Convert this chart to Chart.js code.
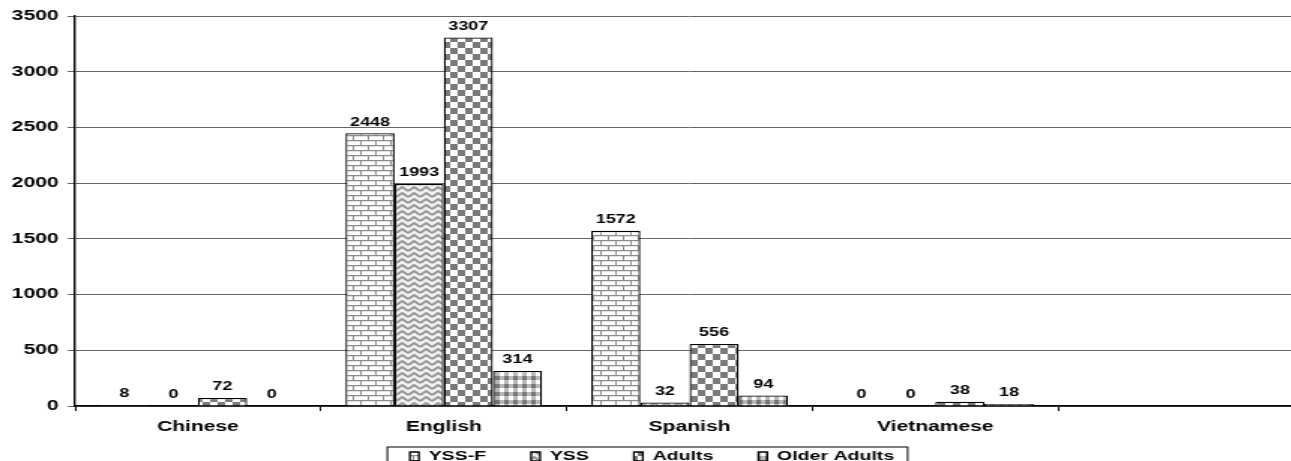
<!DOCTYPE html>
<html>
<head>
<meta charset="utf-8">
<script src="https://cdn.jsdelivr.net/npm/chart.js@4.4.1/dist/chart.umd.min.js"></script>
<style>
  html, body { margin: 0; padding: 0; background: #fff; overflow: hidden; }
  #chart_lang { display: block; }
</style>
</head>
<body>
<!-- drawn narrow and stretched sideways, like the original picture -->
<canvas id="chart_lang" width="869" height="493" style="width:1303.5px;height:493px"></canvas>
<script>
const labels = ["Chinese", "English", "Spanish", "Vietnamese", ""];
const yssF = [8, 2448, 1572, 0, null];
const yss = [0, 1993, 32, 0, null];
const adults = [72, 3307, 556, 38, null];
const olderAdults = [0, 314, 94, 18, null];
const yTicks = [0, 500, 1000, 1500, 2000, 2500, 3000, 3500];

const FONT = "'Liberation Sans', Arial, sans-serif";
Chart.defaults.font.family = FONT;
Chart.defaults.color = "#000";

function makePattern(w, h, paint) {
    const c = document.createElement("canvas");
    c.width = w;
    c.height = h;
    const g = c.getContext("2d");
    paint(g);
    return g.createPattern(c, "repeat");
}

// bricks
const brick = makePattern(10, 10, (g) => {
    g.fillStyle = "#fff";
    g.fillRect(0, 0, 10, 10);
    g.fillStyle = "#e2e2e2";
    g.fillRect(1, 1, 9, 1);
    g.fillRect(0, 6, 10, 1);
    g.fillStyle = "#8c8c8c";
    g.fillRect(0, 0, 10, 1);
    g.fillRect(0, 5, 10, 1);
    g.fillRect(0, 0, 1, 5);
    g.fillRect(5, 5, 1, 5);
});
// zigzag
const zigzag = makePattern(8, 6, (g) => {
    g.fillStyle = "#f0f0f0";
    g.fillRect(0, 0, 8, 6);
    g.strokeStyle = "#959595";
    g.lineWidth = 1.8;
    g.beginPath();
    g.moveTo(0, 5); g.lineTo(4, 1); g.lineTo(8, 5);
    g.stroke();
});
// checkerboard
const checker = makePattern(10, 12, (g) => {
    g.fillStyle = "#fff";
    g.fillRect(0, 0, 10, 12);
    g.fillStyle = "#7a7a7a";
    g.fillRect(0, 0, 5, 6);
    g.fillRect(5, 6, 5, 6);
});
// small plaid
const plaid = makePattern(6, 8, (g) => {
    g.fillStyle = "#b8b8b8";
    g.fillRect(0, 0, 6, 8);
    g.fillStyle = "#767676";
    g.fillRect(0, 0, 3, 4);
    g.fillStyle = "#fff";
    g.fillRect(3, 4, 3, 4);
});

const data = {
    labels: labels,
    datasets: [
        { label: "YSS-F", data: yssF, backgroundColor: brick },
        { label: "YSS", data: yss, backgroundColor: zigzag },
        { label: "Adults", data: adults, backgroundColor: checker },
        { label: "Older Adults", data: olderAdults, backgroundColor: plaid },
    ],
};
data.datasets.forEach((d) => {
    d.borderColor = "#000";
    d.borderWidth = 1.3;
    d.borderSkipped = "bottom";
    d.categoryPercentage = 0.8;
    d.barPercentage = 1.0;
});

const valueLabels = {
    id: "valueLabels",
    afterDatasetsDraw(chart) {
        const ctx = chart.ctx;
        ctx.save();
        ctx.font = "bold 12px " + FONT;
        ctx.fillStyle = "#000";
        ctx.textAlign = "center";
        ctx.textBaseline = "bottom";
        chart.data.datasets.forEach((ds, i) => {
            chart.getDatasetMeta(i).data.forEach((bar, j) => {
                const v = ds.data[j];
                if (v === null || v === undefined) return;
                ctx.fillText(String(v), bar.x, bar.y - 5);
            });
        });
        ctx.restore();
    },
};

// pull the legend up under the category names
const legendShift = {
    id: "legendShift",
    afterLayout(chart) {
        chart.legend.top -= 20;
        chart.legend.bottom -= 20;
    },
};

const legendFrame = {
    id: "legendFrame",
    afterDraw(chart) {
        const hb = chart.legend.legendHitBoxes;
        if (!hb || !hb.length) return;
        const last = hb[hb.length - 1];
        const left = hb[0].left - 15;
        const right = last.left + last.width + 9;
        const top = hb[0].top - 3;
        const ctx = chart.ctx;
        ctx.save();
        ctx.strokeStyle = "#000";
        ctx.lineWidth = 1;
        ctx.strokeRect(left, top, right - left, 60);
        ctx.restore();
    },
};

const config = {
    type: "bar",
    data: data,
    options: {
        responsive: false,
        animation: false,
        devicePixelRatio: 1,
        layout: { padding: { top: 16, right: 0, bottom: 0, left: 0 } },
        plugins: {
            legend: {
                position: "bottom",
                labels: {
                    font: { size: 13, weight: "bold" },
                    color: "#000",
                    boxWidth: 6,
                    boxHeight: 9,
                    padding: 30,
                },
            },
            tooltip: { enabled: false },
        },
        scales: {
            x: {
                afterFit: (s) => { s.height = 34; },
                border: { color: "#000", width: 1.5 },
                grid: {
                    display: true,
                    drawOnChartArea: false,
                    color: "#000",
                    lineWidth: 1,
                    tickLength: 5,
                },
                ticks: {
                    font: { size: 14, weight: "bold" },
                    color: "#000",
                    padding: 8,
                    maxRotation: 0,
                },
            },
            y: {
                min: 0,
                max: 3500,
                afterFit: (s) => { s.width = 50; },
                afterBuildTicks: (s) => { s.ticks = yTicks.map((v) => ({ value: v })); },
                border: { color: "#000", width: 1.4 },
                grid: { color: "#666", lineWidth: 1, tickLength: 5 },
                ticks: {
                    font: { size: 14, weight: "bold" },
                    color: "#000",
                    padding: 6,
                    callback: (v) => String(v),
                },
            },
        },
    },
    plugins: [valueLabels, legendShift, legendFrame],
};

const ctxLang = document.getElementById("chart_lang");
const langChart = new Chart(ctxLang, config);
</script>
</body>
</html>
